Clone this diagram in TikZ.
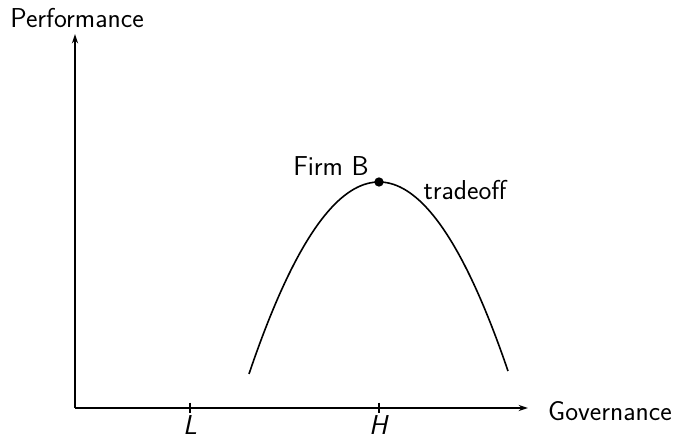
\documentclass[tikz,border=0pt]{standalone}
\usetikzlibrary{arrows.meta}
\begin{document}
\begin{tikzpicture}[x=0.75pt,y=-0.75pt,
  axis/.style={line width=1.2pt,-{Stealth[length=7pt,width=4.5pt]}},
  lbl/.style={font=\sffamily\fontsize{20.5}{23}\selectfont,inner sep=0pt},
  tick/.style={line width=1pt}]
\useasboundingbox (0,0) rectangle (676,438);
\coordinate (O) at (75,408);
\coordinate (ytop) at (75,34);
\coordinate (xend) at (528,408);
\draw[axis] (O) -- (ytop);
\draw[axis] (O) -- (xend);
\node[lbl] (perf) at (77,18) {Performance};
\node[lbl] (gov) at (610,411) {Governance};
\coordinate (Lt) at (190,408);
\coordinate (Ht) at (379,408);
\draw[tick] ([yshift=4pt]Lt) -- ([yshift=-4pt]Lt);
\draw[tick] ([yshift=4pt]Ht) -- ([yshift=-4pt]Ht);
\node[lbl] (L) at (190,425) {\textit{L}};
\node[lbl] (H) at (379,425) {\textit{H}};
\draw[line width=1.2pt] plot[domain=249:508,samples=80,smooth] (\x,{182+189*((\x-379)/129)^2});
\node[circle,fill=black,inner sep=0pt,minimum size=7pt] (B) at (379,182) {};
\node[lbl] (firmB) at (331,166) {Firm B};
\node[lbl] (trade) at (465,190) {tradeoff};
\end{tikzpicture}
\end{document}
